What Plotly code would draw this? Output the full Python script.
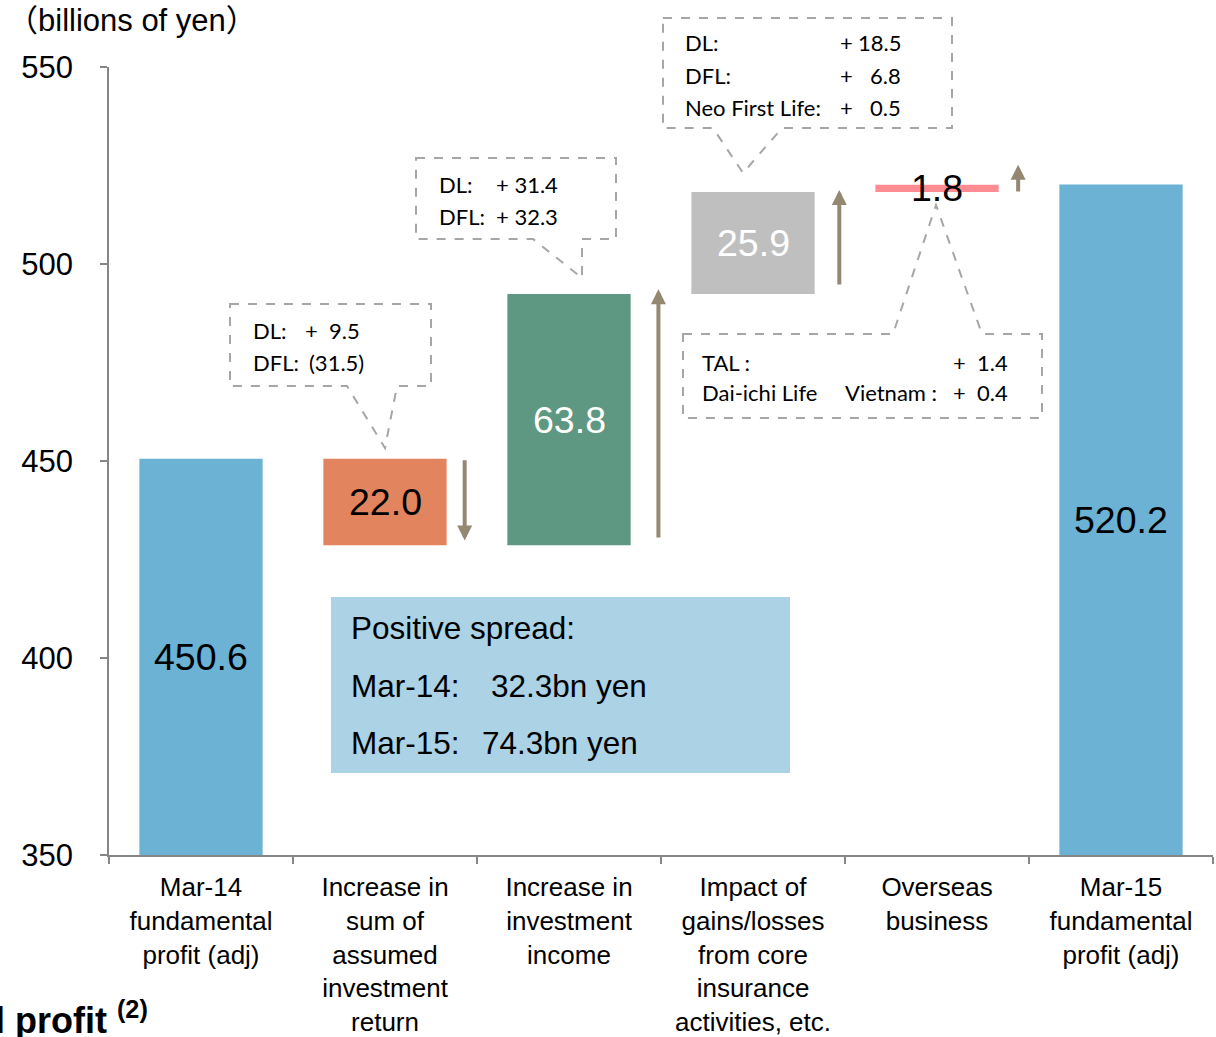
import plotly.graph_objects as go

# ---------------- data ----------------
categories = [
    "Mar-14<br>fundamental<br>profit (adj)",
    "Increase in<br>sum of<br>assumed<br>investment<br>return",
    "Increase in<br>investment<br>income",
    "Impact of<br>gains/losses<br>from core<br>insurance<br>activities, etc.",
    "Overseas<br>business",
    "Mar-15<br>fundamental<br>profit (adj)",
]
changes = [450.6, -22.0, 63.8, 25.9, 1.8, 520.2]
is_total = [True, False, False, False, False, True]
bar_labels = ["450.6", "22.0", "63.8", "25.9", "1.8", "520.2"]
bar_colors = ["#6BB2D4", "#E2845E", "#5E9782", "#BFBFBF", "#FF8C92", "#6BB2D4"]
label_colors = ["black", "black", "white", "white", "black", "black"]
y_ticks = [350, 400, 450, 500, 550]
y_min, y_max = 350, 550

# arrows beside the step bars: (category position, from value, to value)
arrow_pos = [1.433, 2.486, 3.469, 4.441]
arrow_from = [450.6, 430.2, 494.4, 518.0]
arrow_to = [429.8, 493.6, 518.8, 525.2]

# ---------------- waterfall geometry ----------------
bases, heights = [], []
running = 0.0
for v, tot in zip(changes, is_total):
    if tot:
        bases.append(0.0)
        heights.append(v)
        running = v
    else:
        lo = min(running, running + v)
        bases.append(lo)
        heights.append(abs(v))
        running = running + v

fig = go.Figure()
fig.add_trace(go.Bar(
    x=categories, y=heights, base=bases,
    marker=dict(color=bar_colors, line=dict(width=0)),
    hoverinfo="skip",
))

ARIAL = "Liberation Sans, Arial, sans-serif"
CAL = "Lato, Open Sans, sans-serif"

annotations = []
# bar value labels
for i, (b, h) in enumerate(zip(bases, heights)):
    lo = max(b, y_min)
    hi = b + h
    annotations.append(dict(
        x=i, y=(lo + hi) / 2, xref="x", yref="y", text=bar_labels[i],
        showarrow=False, font=dict(family=ARIAL, size=37.5, color=label_colors[i]),
    ))

# arrows
for xp, a0, a1 in zip(arrow_pos, arrow_from, arrow_to):
    annotations.append(dict(
        x=xp, y=a1, ax=xp, ay=a0, xref="x", yref="y", axref="x", ayref="y",
        text="", showarrow=True, arrowhead=2, arrowsize=0.75, arrowwidth=4,
        arrowcolor="#958873", standoff=0, startstandoff=0,
    ))

# pixel -> paper helpers (plot area)
L, R, T, B = 109, 1213, 67, 855
def px(x):
    return (x - L) / (R - L)
def py(y):
    return (B - y) / (B - T)

def txt(x, y, s, anchor="left", size=22, family=CAL):
    annotations.append(dict(
        x=px(x), y=py(y), xref="paper", yref="paper", text=s, showarrow=False,
        xanchor=anchor, yanchor="middle",
        font=dict(family=family, size=size, color="black"),
    ))

# unit label
txt(5, 20, "（billions of yen）", size=31, family=ARIAL + ", Noto Sans CJK JP")
# cut-off title fragment at bottom left
annotations.append(dict(
    x=px(150), y=py(1043), xref="paper", yref="paper",
    text="<b>l profit <sup>(2)</sup></b>", showarrow=False,
    xanchor="right", yanchor="bottom",
    font=dict(family=ARIAL, size=36, color="black"),
))

# callout 1
txt(251, 330, "DL:")
txt(303, 330, "+  9.5")
txt(251, 362, "DFL:")
txt(307, 362, "(31.5)")
# callout 2
txt(437, 184, "DL:")
txt(494, 184, "+ 31.4")
txt(437, 216, "DFL:")
txt(494, 216, "+ 32.3")
# callout 3
txt(683, 43, "DL:")
txt(683, 75, "DFL:")
txt(683, 107, "Neo First Life:")
for yy, val in [(43, "18.5"), (75, "6.8"), (107, "0.5")]:
    txt(838, yy, "+")
    txt(903, yy, val, anchor="right")
# callout 4
txt(700, 362, "TAL :")
txt(700, 393, "Dai-ichi Life")
txt(843, 393, "Vietnam :")
for yy, val in [(362, "1.4"), (393, "0.4")]:
    txt(951, yy, "+")
    txt(1010, yy, val, anchor="right")

# positive spread box text
txt(349, 628, "Positive spread:", size=31.5, family=ARIAL)
txt(349, 686, "Mar-14:", size=31.5, family=ARIAL)
txt(489, 686, "32.3bn yen", size=31.5, family=ARIAL)
txt(349, 743, "Mar-15:", size=31.5, family=ARIAL)
txt(480, 743, "74.3bn yen", size=31.5, family=ARIAL)

def path(points):
    return "M " + " L ".join(f"{px(x):.5f},{py(y):.5f}" for x, y in points) + " Z"

callouts = [
    [(230, 304), (431, 304), (431, 386), (397, 386), (385, 448), (347, 386), (230, 386)],
    [(416, 158), (616, 158), (616, 239), (582, 239), (582, 278), (533, 239), (416, 239)],
    [(663, 18), (952, 18), (952, 128), (782, 128), (743, 173), (713, 128), (663, 128)],
    [(683, 334), (893, 334), (936, 205), (982, 334), (1042, 334), (1042, 418), (683, 418)],
]
shapes = []
for pts in callouts:
    shapes.append(dict(
        type="path", xref="paper", yref="paper", path=path(pts),
        line=dict(color="#A6A6A6", width=2, dash="dash"), fillcolor="rgba(0,0,0,0)",
        layer="above",
    ))
shapes.append(dict(
    type="rect", xref="paper", yref="paper",
    x0=px(331), x1=px(790), y0=py(773), y1=py(597),
    fillcolor="#ABD2E5", line=dict(width=0), layer="below",
))

fig.update_layout(
    width=1216, height=1037,
    margin=dict(l=L, r=1216 - R, t=T, b=1037 - B, autoexpand=False),
    plot_bgcolor="white", paper_bgcolor="white",
    showlegend=False, bargap=0.33,
    annotations=annotations, shapes=shapes,
    xaxis=dict(
        type="category", tickson="boundaries", ticks="outside", ticklen=7,
        tickcolor="#868686", tickwidth=1.5, automargin=False,
        showline=True, linecolor="#868686", linewidth=1.5,
        showgrid=False, tickfont=dict(family=ARIAL, size=26, color="black"),
        ticklabelstandoff=8, fixedrange=True,
    ),
    yaxis=dict(
        range=[y_min, y_max], tickvals=y_ticks, ticks="outside", ticklen=7,
        tickcolor="#868686", tickwidth=1.5, automargin=False,
        showline=True, linecolor="#868686", linewidth=1.5,
        showgrid=False, zeroline=False, ticklabelstandoff=21,
        tickfont=dict(family=ARIAL, size=31, color="black"),
    ),
)

fig.write_html("out.html")
